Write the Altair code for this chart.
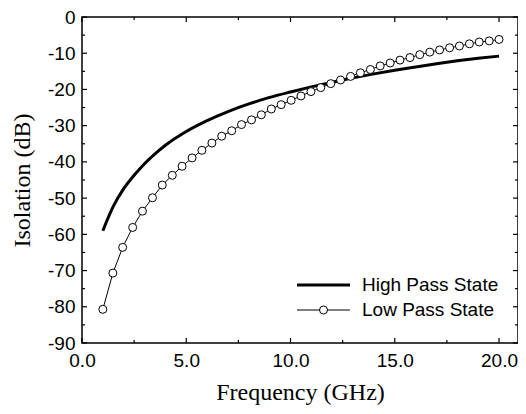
import altair as alt
import pandas as pd

# ---- data ----
freq_high = [1.0, 1.5, 2.0, 2.5, 3.0, 3.5, 4.0, 5.0, 6.0, 7.0, 8.0, 9.0, 10.0,
             11.0, 12.0, 13.0, 14.0, 15.0, 16.0, 17.0, 18.0, 19.0, 20.0]
iso_high = [-59.0, -52.3, -47.4, -43.7, -40.5, -37.8, -35.4, -31.6, -28.6, -26.1,
            -24.0, -22.2, -20.7, -19.3, -18.0, -16.8, -15.7, -14.7, -13.8, -12.9,
            -12.1, -11.4, -10.8]

freq_low = [1.0, 1.48, 1.95, 2.43, 2.9, 3.38, 3.85, 4.33, 4.8, 5.28, 5.75, 6.23,
            6.7, 7.18, 7.65, 8.13, 8.6, 9.08, 9.55, 10.03, 10.5, 10.98, 11.45,
            11.93, 12.4, 12.88, 13.35, 13.83, 14.3, 14.78, 15.25, 15.73, 16.2,
            16.68, 17.15, 17.63, 18.1, 18.58, 19.05, 19.53, 20.0]
iso_low = [-80.7, -70.7, -63.6, -58.1, -53.6, -49.9, -46.4, -43.7, -41.2, -38.9,
           -36.8, -34.8, -32.9, -31.4, -29.7, -28.4, -27.0, -25.4, -24.2, -23.0,
           -21.8, -20.6, -19.5, -18.4, -17.4, -16.4, -15.4, -14.5, -13.5, -12.7,
           -11.9, -11.2, -10.4, -9.7, -9.1, -8.5, -8.0, -7.4, -6.9, -6.6, -6.2]

x_major = [0, 5, 10, 15, 20]
x_minor = [2.5, 7.5, 12.5, 17.5]
y_major = [0, -10, -20, -30, -40, -50, -60, -70, -80, -90]
y_minor = [-5, -15, -25, -35, -45, -55, -65, -75, -85]
legend_labels = ["High Pass State", "Low Pass State"]

# ---- layout ----
W, H = 436, 326
xs = alt.Scale(domain=[0, 20.91], nice=False, zero=False)
ys = alt.Scale(domain=[-90, 0], nice=False, zero=False)
SANS = "Liberation Sans"
SERIF = "Liberation Serif"

high_df = pd.DataFrame({"f": freq_high, "iso": iso_high})
low_df = pd.DataFrame({"f": freq_low, "iso": iso_low})

xaxis = alt.Axis(values=x_major, format=".1f", title="Frequency (GHz)", grid=False,
                 ticks=False, domain=False, labelFont=SANS, labelFontSize=19,
                 labelColor="black", labelPadding=8, labelFlush=False,
                 labelOverlap=False, titleFont=SERIF, titleFontSize=24,
                 titleFontWeight="normal", titleColor="black", titlePadding=10)
yaxis = alt.Axis(values=y_major, labelExpr="'' + datum.value", title="Isolation (dB)",
                 grid=False, ticks=False, domain=False, labelFont=SANS,
                 labelFontSize=19, labelColor="black", labelPadding=7,
                 labelFlush=False, labelOverlap=False, titleFont=SERIF,
                 titleFontSize=24, titleFontWeight="normal", titleColor="black",
                 titlePadding=13)


def X(field):
    return alt.X(field, scale=xs, axis=xaxis)


def Y(field):
    return alt.Y(field, scale=ys, axis=yaxis)


high = alt.Chart(high_df).mark_line(color="black", strokeWidth=3,
                                    interpolate="monotone").encode(
    x=X("f:Q"), y=Y("iso:Q"))
low_line = alt.Chart(low_df).mark_line(color="black", strokeWidth=1).encode(
    x=X("f:Q"), y=Y("iso:Q"))
low_pts = alt.Chart(low_df).mark_point(shape="circle", filled=True, fill="white",
                                       stroke="black", strokeWidth=1, size=64,
                                       opacity=1).encode(
    x=X("f:Q"), y=Y("iso:Q"))


def xticks(vals, length, top):
    df = pd.DataFrame({"f": vals})
    y0, y1 = (0, length) if top else (H, H - length)
    return alt.Chart(df).mark_rule(color="black", strokeWidth=1.2).encode(
        x=X("f:Q"), y=alt.value(y0), y2=alt.value(y1))


def yticks(vals, length, right):
    df = pd.DataFrame({"iso": vals})
    x0, x1 = (W, W - length) if right else (0, length)
    return alt.Chart(df).mark_rule(color="black", strokeWidth=1.2).encode(
        y=Y("iso:Q"), x=alt.value(x0), x2=alt.value(x1))


ticks = [xticks(x_major, 5, False), xticks(x_minor, 3, False),
         xticks(x_major, 5, True), xticks(x_minor, 3, True),
         yticks(y_major, 5, False), yticks(y_minor, 3, False),
         yticks(y_major, 5, True), yticks(y_minor, 3, True)]

# ---- legend (inside plot, lower right) ----
L1Y, L2Y = 268, 293
leg_high_line = alt.Chart().mark_rule(color="black", strokeWidth=3).encode(
    x=alt.value(215), x2=alt.value(268), y=alt.value(L1Y))
leg_low_line = alt.Chart().mark_rule(color="black", strokeWidth=1).encode(
    x=alt.value(215), x2=alt.value(268), y=alt.value(L2Y))
leg_low_pt = alt.Chart().mark_point(shape="circle", filled=True, fill="white",
                                    stroke="black", strokeWidth=1, size=64,
                                    opacity=1).encode(
    x=alt.value(241.5), y=alt.value(L2Y))
leg_t1 = alt.Chart().mark_text(align="left", baseline="middle", font=SANS,
                               fontSize=19, color="black").encode(
    x=alt.value(280), y=alt.value(L1Y), text=alt.value(legend_labels[0]))
leg_t2 = alt.Chart().mark_text(align="left", baseline="middle", font=SANS,
                               fontSize=19, color="black").encode(
    x=alt.value(280), y=alt.value(L2Y), text=alt.value(legend_labels[1]))

chart = alt.layer(
    high, low_line, low_pts, *ticks,
    leg_high_line, leg_low_line, leg_low_pt, leg_t1, leg_t2,
).properties(
    width=W, height=H,
    autosize=alt.AutoSizeParams(type="none"),
    padding={"left": 74, "top": 9, "right": 0, "bottom": 64},
    background="white",
).configure_view(stroke="black", strokeWidth=1.5)

chart.save("out.html", embed_options={"renderer": "svg", "actions": False})
